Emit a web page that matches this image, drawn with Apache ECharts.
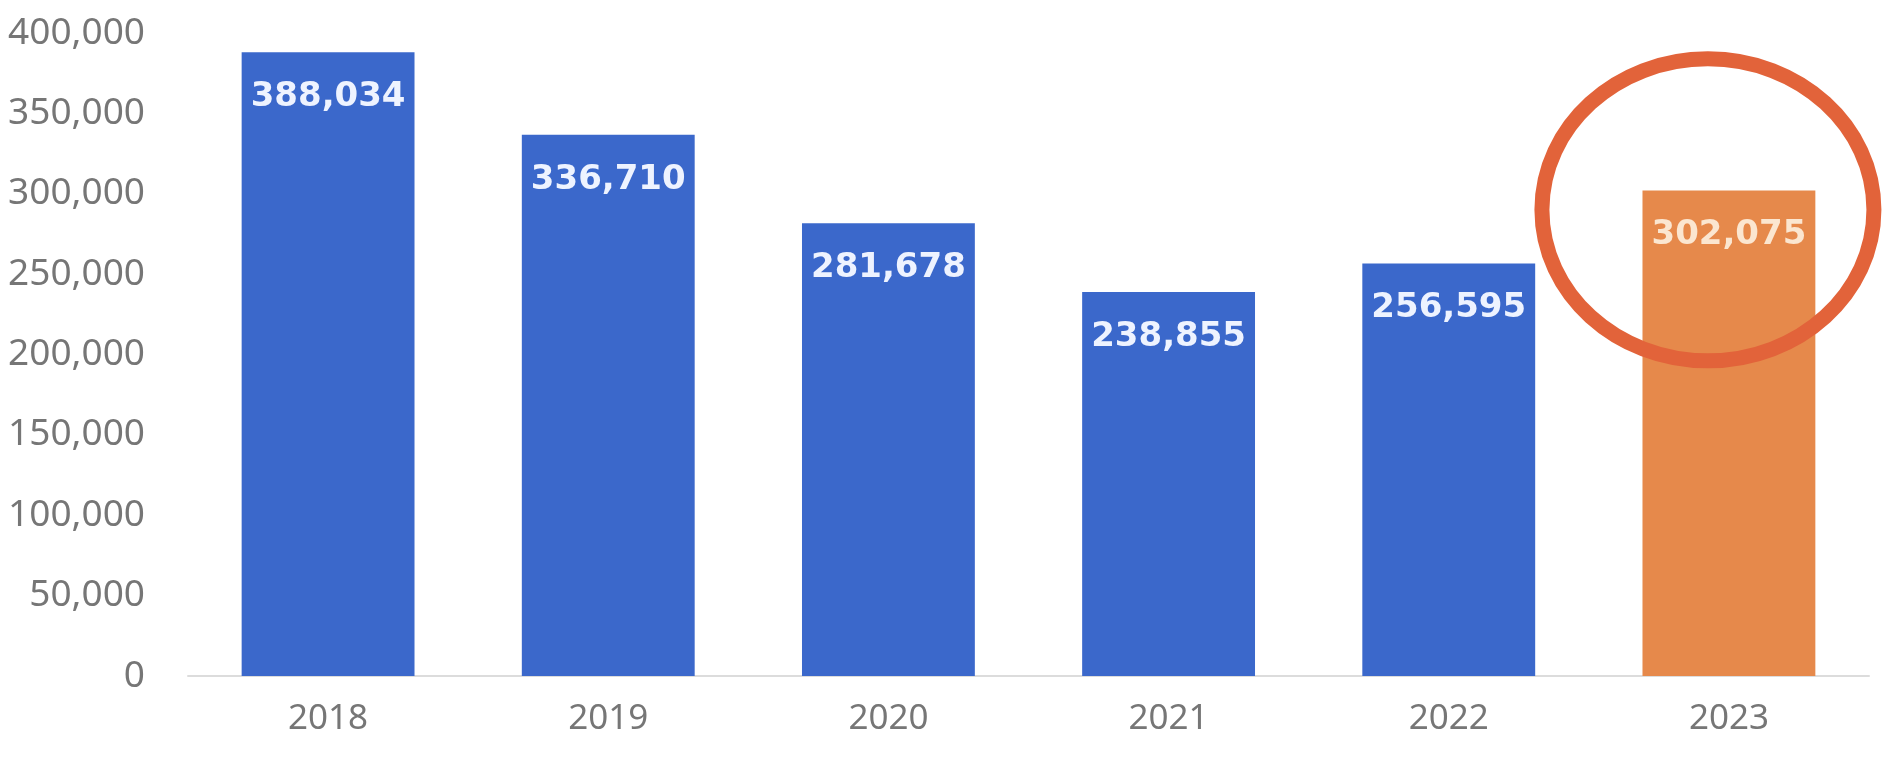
<!DOCTYPE html>
<html><head><meta charset="utf-8">
<script src="https://cdn.jsdelivr.net/npm/echarts@6/dist/echarts.min.js"></script>
<style>html,body{margin:0;padding:0;background:#fff}#c{width:1884px;height:764px}</style>
</head><body><div id="c"></div>
<script>
const years = ['2018', '2019', '2020', '2021', '2022', '2023'];
const values = [388034, 336710, 281678, 238855, 256595, 302075];
const highlightYear = '2023';
const yTicks = [0, 50000, 100000, 150000, 200000, 250000, 300000, 350000, 400000];

const BLUE = '#3B68CB', ORANGE = '#E6894B', RING = '#E2633A';
const fmt = v => v.toLocaleString('en-US');

const chart = echarts.init(document.getElementById('c'));
chart.setOption({
  animation: false,
  backgroundColor: '#ffffff',
  grid: { left: 188, right: 15, top: 33, bottom: 88, containLabel: false },
  xAxis: {
    type: 'category', data: years,
    axisLine: { show: true, lineStyle: { color: '#dcdcdc', width: 2 } },
    axisTick: { show: false },
    axisLabel: { color: '#767676', fontFamily: 'Noto Sans', fontSize: 35, margin: 26 }
  },
  yAxis: {
    type: 'value', min: yTicks[0], max: yTicks[yTicks.length - 1], interval: yTicks[1] - yTicks[0],
    axisLine: { show: false }, axisTick: { show: false }, splitLine: { show: false },
    axisLabel: { color: '#767676', fontFamily: 'Noto Sans', fontSize: 37, margin: 43, formatter: v => fmt(v) }
  },
  series: [{
    type: 'bar', barWidth: '61.7%',
    data: values.map((v, i) => ({
      value: v,
      itemStyle: { color: years[i] === highlightYear ? ORANGE : BLUE },
      label: { color: years[i] === highlightYear ? '#fbe6d0' : '#eef3ff' }
    })),
    label: {
      show: true, position: 'insideTop', distance: 28,
      fontFamily: 'DejaVu Sans', fontWeight: 'bold', fontSize: 34,
      formatter: p => fmt(p.value)
    }
  }]
});

function drawRing() {
  const idx = years.indexOf(highlightYear);
  const p0 = chart.convertToPixel({ gridIndex: 0 }, [idx, 290000]);
  chart.setOption({
    graphic: [{
      type: 'ellipse', z: 100,
      shape: { cx: p0[0] - 21, cy: p0[1], rx: 166, ry: 151 },
      style: { fill: 'none', stroke: RING, lineWidth: 15 }
    }]
  });
}
drawRing();
</script>
</body></html>
